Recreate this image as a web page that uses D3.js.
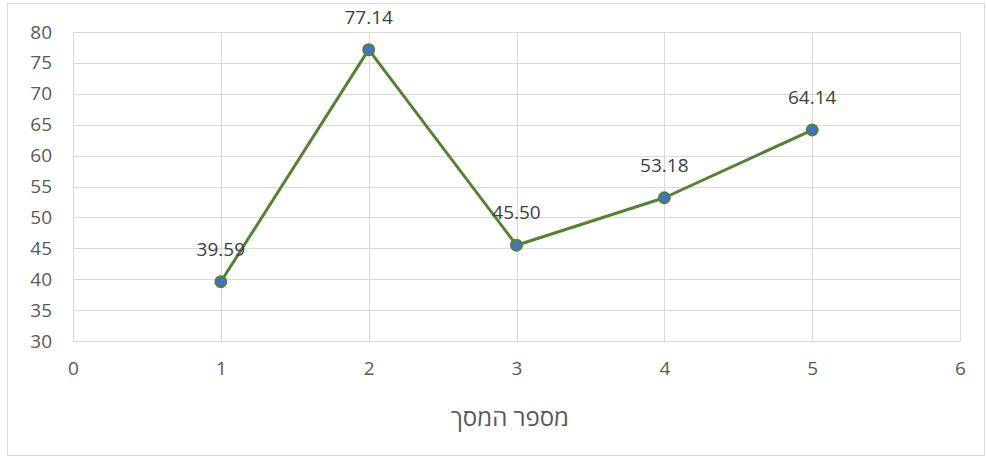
<!DOCTYPE html>
<html>
<head>
<meta charset="utf-8">
<script src="https://cdn.jsdelivr.net/npm/d3@7"></script>
<style>
  html, body { margin: 0; padding: 0; background: #fff; }
  svg { display: block; }
</style>
</head>
<body>
<svg id="chart" width="987" height="459"></svg>
<script>
// Screen number vs. measured value
const screens = [1, 2, 3, 4, 5];
const values = [39.59, 77.14, 45.50, 53.18, 64.14];
const xTicks = [0, 1, 2, 3, 4, 5, 6];
const yTicks = [30, 35, 40, 45, 50, 55, 60, 65, 70, 75, 80];
const xTitle = "מספר המסך";

const svg = d3.select("#chart");
const W = 987, H = 459;
const plot = { left: 73, right: 960, top: 32, bottom: 341 };
const textColor = "#595959";
const gridColor = "#d9d9d9";
const font = "'Open Sans', 'Noto Sans', sans-serif";

// outer chart frame
svg.append("rect")
  .attr("x", 7.5).attr("y", 3.5)
  .attr("width", W - 10).attr("height", H - 7)
  .attr("fill", "#fff").attr("stroke", "#d9d9d9").attr("stroke-width", 1);

const x = d3.scaleLinear().domain([0, 6]).range([plot.left, plot.right]);
const y = d3.scaleLinear().domain([30, 80]).range([plot.bottom, plot.top]);

// horizontal gridlines
svg.append("g").selectAll("line").data(yTicks).join("line")
  .attr("x1", plot.left).attr("x2", plot.right)
  .attr("y1", d => Math.round(y(d)) + 0.5).attr("y2", d => Math.round(y(d)) + 0.5)
  .attr("stroke", gridColor).attr("stroke-width", 1);

// vertical gridlines
svg.append("g").selectAll("line").data(xTicks).join("line")
  .attr("x1", d => Math.round(x(d)) + 0.5).attr("x2", d => Math.round(x(d)) + 0.5)
  .attr("y1", plot.top).attr("y2", plot.bottom)
  .attr("stroke", gridColor).attr("stroke-width", 1);

// y axis labels
const yAxis = d3.axisLeft(y).tickValues(yTicks).tickSize(0).tickPadding(0).tickFormat(d3.format("d"));
const gy = svg.append("g").attr("transform", `translate(${plot.left - 21},0)`).call(yAxis);
gy.select(".domain").remove();
gy.selectAll("text")
  .attr("fill", textColor).attr("font-family", font).attr("font-size", 19);

// x axis labels
const xAxis = d3.axisBottom(x).tickValues(xTicks).tickSize(0).tickPadding(0).tickFormat(d3.format("d"));
const gx = svg.append("g").attr("transform", `translate(0,${plot.bottom + 20})`).call(xAxis);
gx.select(".domain").remove();
gx.selectAll("text")
  .attr("fill", textColor).attr("font-family", font).attr("font-size", 19);

// x axis title
svg.append("text")
  .attr("x", 510)
  .attr("y", 426)
  .attr("text-anchor", "middle")
  .attr("fill", textColor).attr("font-family", font).attr("font-size", 24)
  .text(xTitle);

const pts = screens.map((s, i) => ({ s, v: values[i] }));

// series line
const line = d3.line().x(d => x(d.s)).y(d => y(d.v));
svg.append("path").datum(pts)
  .attr("d", line)
  .attr("fill", "none")
  .attr("stroke", "#548235").attr("stroke-width", 3)
  .attr("stroke-linejoin", "round");

// markers
svg.append("g").selectAll("circle").data(pts).join("circle")
  .attr("cx", d => x(d.s)).attr("cy", d => y(d.v))
  .attr("r", 5.5)
  .attr("fill", "#4472c4").attr("stroke", "#548235").attr("stroke-width", 2);

// data labels
svg.append("g").selectAll("text").data(pts).join("text")
  .attr("x", d => x(d.s)).attr("y", d => y(d.v) - 26)
  .attr("text-anchor", "middle")
  .attr("fill", "#404040").attr("font-family", font).attr("font-size", 19)
  .text(d => d.v.toFixed(2));
</script>
</body>
</html>
